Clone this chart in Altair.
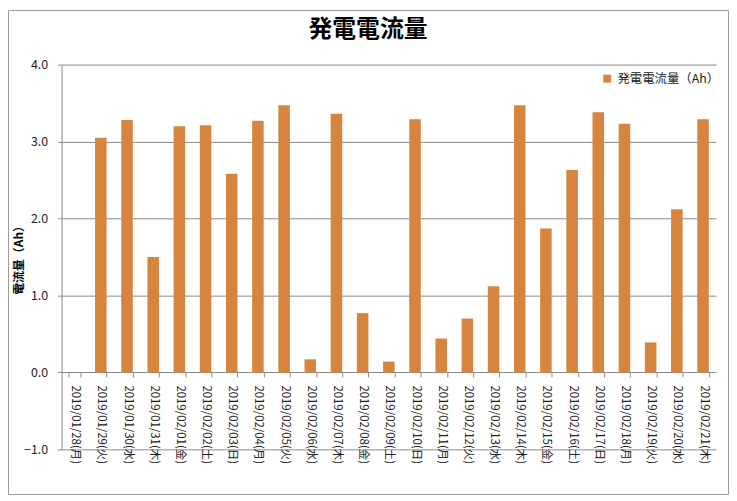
import altair as alt
import pandas as pd

dates = [
    "2019/01/28(月)", "2019/01/29(火)", "2019/01/30(水)", "2019/01/31(木)",
    "2019/02/01(金)", "2019/02/02(土)", "2019/02/03(日)", "2019/02/04(月)",
    "2019/02/05(火)", "2019/02/06(水)", "2019/02/07(木)", "2019/02/08(金)",
    "2019/02/09(土)", "2019/02/10(日)", "2019/02/11(月)", "2019/02/12(火)",
    "2019/02/13(水)", "2019/02/14(木)", "2019/02/15(金)", "2019/02/16(土)",
    "2019/02/17(日)", "2019/02/18(月)", "2019/02/19(火)", "2019/02/20(水)",
    "2019/02/21(木)",
]
values = [
    0.0, 3.05, 3.28, 1.50, 3.20, 3.21, 2.58, 3.27, 3.47, 0.17, 3.36, 0.77,
    0.14, 3.29, 0.44, 0.70, 1.12, 3.47, 1.87, 2.63, 3.38, 3.23, 0.39, 2.12, 3.29,
]
series_name = "発電電流量（Ah）"
y_ticks = [-1, 0, 1, 2, 3, 4]

df = pd.DataFrame({"date": dates, "value": values, "series": series_name})

FONT = "Noto Sans CJK JP"
GRAY = "#8a8a8a"
W, H = 660, 388

bars = alt.Chart(df).mark_bar(color="#D7853E", clip=False).encode(
    x=alt.X(
        "date:N", sort=None,
        scale=alt.Scale(paddingInner=0.56, paddingOuter=0.28),
        axis=alt.Axis(
            title=None, labelAngle=90, labelAlign="left", labelBaseline="middle",
            labelPadding=8, labelFontSize=11.5, labelColor="#222", labelFont=FONT,
            tickBand="extent", tickSize=5, tickColor=GRAY, domainColor=GRAY,
            offset=-78, grid=False, labelOverlap=False,
        ),
    ),
    y=alt.Y(
        "value:Q",
        scale=alt.Scale(domain=[-1, 4], nice=False, zero=False),
        axis=alt.Axis(
            title="電流量（Ah）", values=y_ticks, format=".1f",
            labelFontSize=12.5, labelColor="#222", labelPadding=10, tickSize=4,
            tickColor=GRAY, domainColor=GRAY, gridColor=GRAY,
            titleFont=FONT, titleFontSize=12, titleFontWeight="bold",
            titleColor="#000", titleX=-36, titleY=H / 2, titleAngle=-90,
            titleBaseline="bottom", titleAlign="center",
        ),
    ),
    color=alt.Color(
        "series:N", scale=alt.Scale(range=["#D7853E"]),
        legend=alt.Legend(
            title=None, orient="none", legendX=544, legendY=8,
            symbolType="square", symbolSize=64, labelFontSize=12.5,
            labelFont=FONT, labelColor="#222",
        ),
    ),
)

border = alt.Chart(pd.DataFrame({"a": [0]})).mark_rect(
    fill=None, stroke="#9a9a9a", strokeWidth=1, clip=False
).encode(
    x=alt.value(-53.5), x2=alt.value(W + 12.5),
    y=alt.value(-54.5), y2=alt.value(H + 45.5),
)

chart = alt.layer(bars, border).properties(
    width=W, height=H,
    autosize=alt.AutoSizeParams(type="none"),
    padding={"left": 54, "top": 55, "right": 13, "bottom": 47},
    title=alt.TitleParams(
        "発電電流量", font=FONT, fontSize=24, fontWeight="bold", color="#000",
        anchor="middle", dx=-21, offset=-32,
    ),
).configure_view(stroke=None).configure_axis(labelFont=FONT)

chart.save("out.html", embed_options={"renderer": "svg", "actions": False})
